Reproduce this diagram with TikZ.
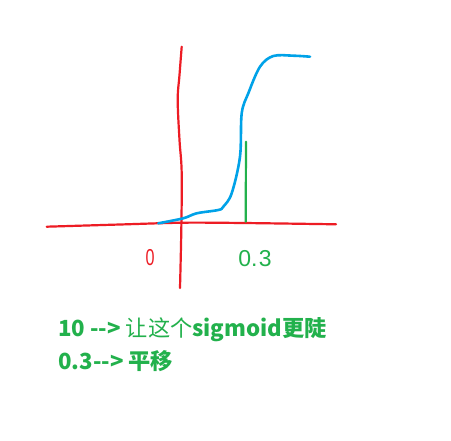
\documentclass[tikz,border=0pt]{standalone}
\usepackage{fontspec}
\usepackage{tikz}
\usetikzlibrary{positioning}
\newfontfamily\cjk{Noto Sans CJK SC}
\newfontfamily\hand{Liberation Sans}
\definecolor{penred}{HTML}{ED1C24}
\definecolor{penblue}{HTML}{00A2E8}
\definecolor{pengreen}{HTML}{22B14C}

\begin{document}
\begin{tikzpicture}[
    x=1pt, y=-1pt,
    axis/.style={draw=penred, line width=2.2pt, line cap=round, line join=round},
    curve/.style={draw=penblue, line width=2.6pt, line cap=round, line join=round},
    mark03/.style={draw=pengreen, line width=2.2pt, line cap=round},
    handlab/.style={font=\hand\fontsize{23}{23}\selectfont, inner sep=0pt},
    note/.style={font=\cjk\bfseries\fontsize{22.2}{25}\selectfont, text=pengreen, anchor=west, inner sep=0pt}
]
\useasboundingbox[fill=white] (0,0) rectangle (451,441);

% Axes
\draw[axis] plot[smooth, tension=0.6] coordinates {(181.7,46.7) (179.5,75) (177.7,100) (179.5,140) (181.7,173) (181.3,230) (180,288)};
\draw[axis] plot[smooth, tension=0.5] coordinates {(46.7,226.7) (120,224.5) (183,222.7) (243,223) (336,224.3)};

% Sigmoid
\draw[curve] plot[smooth, tension=0.55] coordinates {(158.3,223.3) (183.3,218.3) (196.7,213.3) (218.3,210) (223.3,206.7) (231.7,193.3) (240,156.7) (241.7,113.3) (248.3,93.3) (260,66.7) (273.3,56) (293.3,55.7) (310,56.7)};

% Shift marker
\coordinate (mtop) at (246,141.7);
\coordinate (mbot) at (245.7,221.7);
\draw[mark03] (mtop) -- (mbot);

% Labels
\node[handlab, text=penred, xscale=0.7] (zero) at (150,258) {0};
\node[handlab, text=pengreen] (shift) at (255,258.5) {0.{\kern1.5pt}3};

% Notes
\node[note] (n1) at (58,330) {10 --> {\mdseries 让这个}sigmoid更陡};
\node[note] (n2) at (58,361.5) {0.3--> 平移};
\end{tikzpicture}
\end{document}
